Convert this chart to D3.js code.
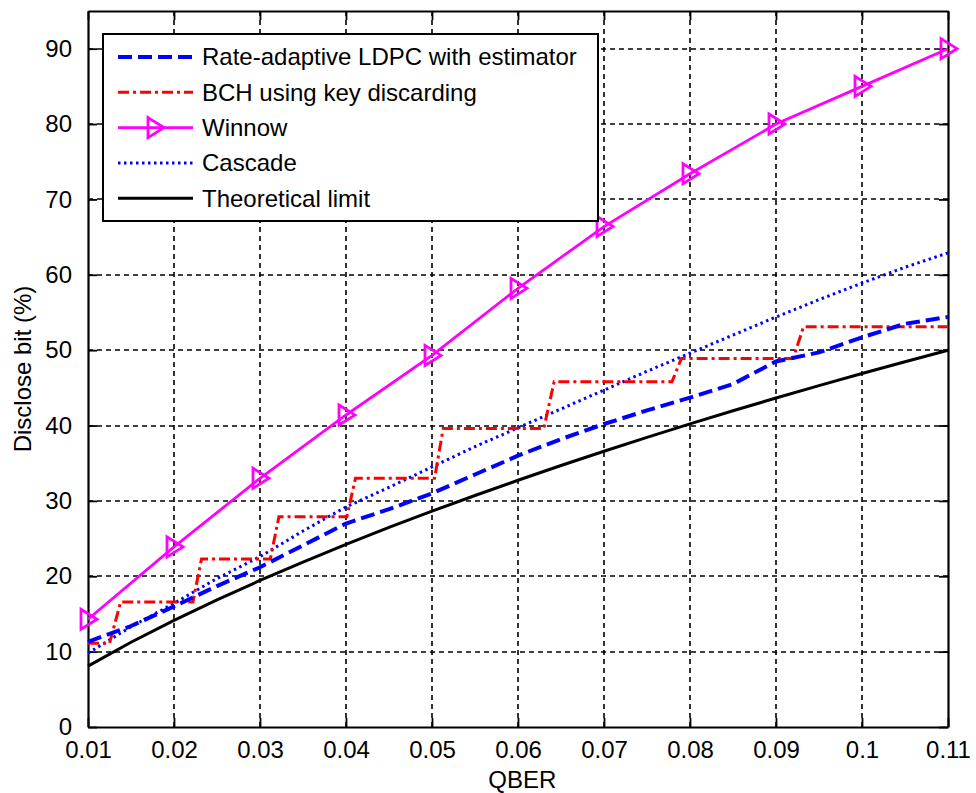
<!DOCTYPE html>
<html>
<head>
<meta charset="utf-8">
<script src="https://d3js.org/d3.v7.min.js"></script>
<style>
body { margin: 0; background: #fff; }
text { font-family: "Liberation Sans", Arial, sans-serif; fill: #000; }
</style>
</head>
<body>
<svg id="chart"></svg>
<script>
const W = 976, H = 793;
const margin = {left: 88, right: 28, top: 11, bottom: 66};

// QBER sample points
const qber = [0.01, 0.015, 0.02, 0.025, 0.03, 0.035, 0.04, 0.045, 0.05, 0.055, 0.06,
  0.065, 0.07, 0.075, 0.08, 0.085, 0.09, 0.095, 0.1, 0.105, 0.11];
const ldpc = [11.3, 13.4, 16.0, 18.7, 21.2, 24.1, 27.0, 28.9, 31.0, 33.5, 36.0,
  38.2, 40.2, 42.0, 43.7, 45.5, 48.5, 49.7, 51.7, 53.5, 54.4];
const cascade = [9.8, 13.3, 16.4, 19.7, 22.6, 26.0, 29.2, 31.8, 34.5, 37.2, 39.7,
  42.2, 44.7, 47.2, 49.6, 52.0, 54.4, 56.7, 58.9, 61.0, 62.9];
const theory = [8.08, 11.24, 14.14, 16.87, 19.44, 21.89, 24.23, 26.48, 28.64, 30.72, 32.74,
  34.70, 36.59, 38.43, 40.22, 41.96, 43.65, 45.29, 46.90, 48.46, 49.99];

const winnowQ = [0.01, 0.02, 0.03, 0.04, 0.05, 0.06, 0.07, 0.08, 0.09, 0.1, 0.11];
const winnow = [14.3, 23.9, 33.0, 41.4, 49.3, 58.2, 66.4, 73.4, 80.0, 85.0, 90.0];

// BCH staircase (QBER, disclosed %)
const bchQ = [0.01, 0.0125, 0.0138, 0.0222, 0.0232, 0.0312, 0.0322, 0.0401, 0.0411,
  0.0503, 0.0513, 0.0630, 0.0642, 0.0779, 0.0790, 0.0920, 0.0932, 0.11];
const bch = [11.1, 11.1, 16.6, 16.6, 22.3, 22.3, 27.9, 27.9, 33.0,
  33.0, 39.6, 39.6, 45.8, 45.8, 48.9, 48.9, 53.1, 53.1];

const xTicks = [0.01, 0.02, 0.03, 0.04, 0.05, 0.06, 0.07, 0.08, 0.09, 0.1, 0.11];
const yTicks = [0, 10, 20, 30, 40, 50, 60, 70, 80, 90];

const svg = d3.select("#chart").attr("width", W).attr("height", H);

const x = d3.scaleLinear().domain([0.01, 0.11]).range([margin.left, W - margin.right]);
const y = d3.scaleLinear().domain([0, 95]).range([H - margin.bottom, margin.top]);

svg.append("rect").attr("width", W).attr("height", H).attr("fill", "#fff");

// grid
const grid = svg.append("g").attr("stroke", "#000").attr("stroke-width", 1.6)
  .attr("stroke-dasharray", "5,4");
grid.selectAll(".gx").data(xTicks.slice(1, -1)).enter().append("line")
  .attr("x1", d => Math.round(x(d))).attr("x2", d => Math.round(x(d)))
  .attr("y1", y(0)).attr("y2", y(95));
grid.selectAll(".gy").data(yTicks.slice(1)).enter().append("line")
  .attr("y1", d => Math.round(y(d))).attr("y2", d => Math.round(y(d)))
  .attr("x1", x(0.01)).attr("x2", x(0.11));

// axes with inward ticks
const fmtX = d => d3.format("")(+d.toFixed(2));
const xAxis = svg.append("g").attr("transform", `translate(0,${y(0)})`)
  .call(d3.axisBottom(x).tickValues(xTicks).tickSizeInner(-9).tickSizeOuter(0).tickPadding(14).tickFormat(fmtX));
const xTop = svg.append("g").attr("transform", `translate(0,${y(95)})`)
  .call(d3.axisTop(x).tickValues(xTicks).tickSizeInner(-9).tickSizeOuter(0).tickFormat(""));
const yAxis = svg.append("g").attr("transform", `translate(${x(0.01)},0)`)
  .call(d3.axisLeft(y).tickValues(yTicks).tickSizeInner(-9).tickSizeOuter(0).tickPadding(16));
const yRight = svg.append("g").attr("transform", `translate(${x(0.11)},0)`)
  .call(d3.axisRight(y).tickValues(yTicks).tickSizeInner(-9).tickSizeOuter(0).tickFormat(""));

[xAxis, xTop, yAxis, yRight].forEach(a => {
  a.selectAll("path").attr("stroke", "#000").attr("stroke-width", 2.2);
  a.selectAll("line").attr("stroke", "#000").attr("stroke-width", 1.8);
  a.selectAll("text").style("font-size", "24px").attr("fill", "#000")
    .style("font-family", "'Liberation Sans', Arial, sans-serif");
});
xAxis.selectAll("text").attr("dy", "0.7em");

// axis labels
svg.append("text").attr("x", x(0.0605)).attr("y", 788)
  .attr("text-anchor", "middle").style("font-size", "24px").text("QBER");
svg.append("text").attr("transform", `translate(31,${y(47.5)}) rotate(-90)`)
  .attr("text-anchor", "middle").style("font-size", "24px").text("Disclose bit (%)");

// series
const plot = svg.append("g");
const line = d3.line().x(d => x(d[0])).y(d => y(d[1]));

plot.append("path").datum(d3.zip(qber, theory))
  .attr("d", line).attr("fill", "none").attr("stroke", "#000").attr("stroke-width", 3);
plot.append("path").datum(d3.zip(qber, cascade))
  .attr("d", line).attr("fill", "none").attr("stroke", "#0000ff").attr("stroke-width", 3)
  .attr("stroke-dasharray", "2.5,3.5");
plot.append("path").datum(d3.zip(bchQ, bch))
  .attr("d", line).attr("fill", "none").attr("stroke", "#ff0000").attr("stroke-width", 3)
  .attr("stroke-dasharray", "11,4,3,4");
plot.append("path").datum(d3.zip(qber, ldpc))
  .attr("d", line).attr("fill", "none").attr("stroke", "#0000ff").attr("stroke-width", 4)
  .attr("stroke-dasharray", "14,6");
plot.append("path").datum(d3.zip(winnowQ, winnow))
  .attr("d", line).attr("fill", "none").attr("stroke", "#ff00ff").attr("stroke-width", 2.8);

const tri = "M-7,-10L9,0L-7,10Z";
plot.selectAll(".mk").data(d3.zip(winnowQ, winnow)).enter().append("path")
  .attr("d", tri)
  .attr("transform", d => `translate(${x(d[0])},${y(d[1])})`)
  .attr("fill", "none").attr("stroke", "#ff00ff").attr("stroke-width", 2.8);

// legend
const legendNames = ["Rate-adaptive LDPC with estimator", "BCH using key discarding",
  "Winnow", "Cascade", "Theoretical limit"];
const legendStyle = [
  {c: "#0000ff", w: 4, dash: "14,6"},
  {c: "#ff0000", w: 3, dash: "11,4,3,4"},
  {c: "#ff00ff", w: 2.8, dash: null, marker: true},
  {c: "#0000ff", w: 3, dash: "2.5,3.5"},
  {c: "#000", w: 3, dash: null}
];
const lg = svg.append("g").attr("transform", "translate(103,34)");
lg.append("rect").attr("width", 495).attr("height", 187)
  .attr("fill", "#fff").attr("stroke", "#000").attr("stroke-width", 2);
const rows = lg.selectAll(".row").data(legendNames).enter().append("g")
  .attr("transform", (d, i) => `translate(0,${23 + i * 35.3})`);
rows.append("line").attr("x1", 15).attr("x2", 90).attr("y1", 0).attr("y2", 0)
  .attr("stroke", (d, i) => legendStyle[i].c)
  .attr("stroke-width", (d, i) => legendStyle[i].w)
  .attr("stroke-dasharray", (d, i) => legendStyle[i].dash);
rows.filter((d, i) => legendStyle[i].marker).append("path")
  .attr("d", tri).attr("transform", "translate(52,0)")
  .attr("fill", "none").attr("stroke", "#ff00ff").attr("stroke-width", 2.8);
rows.append("text").attr("x", 99).attr("y", 0).attr("dy", "0.35em")
  .style("font-size", "24px").text(d => d);
</script>
</body>
</html>
